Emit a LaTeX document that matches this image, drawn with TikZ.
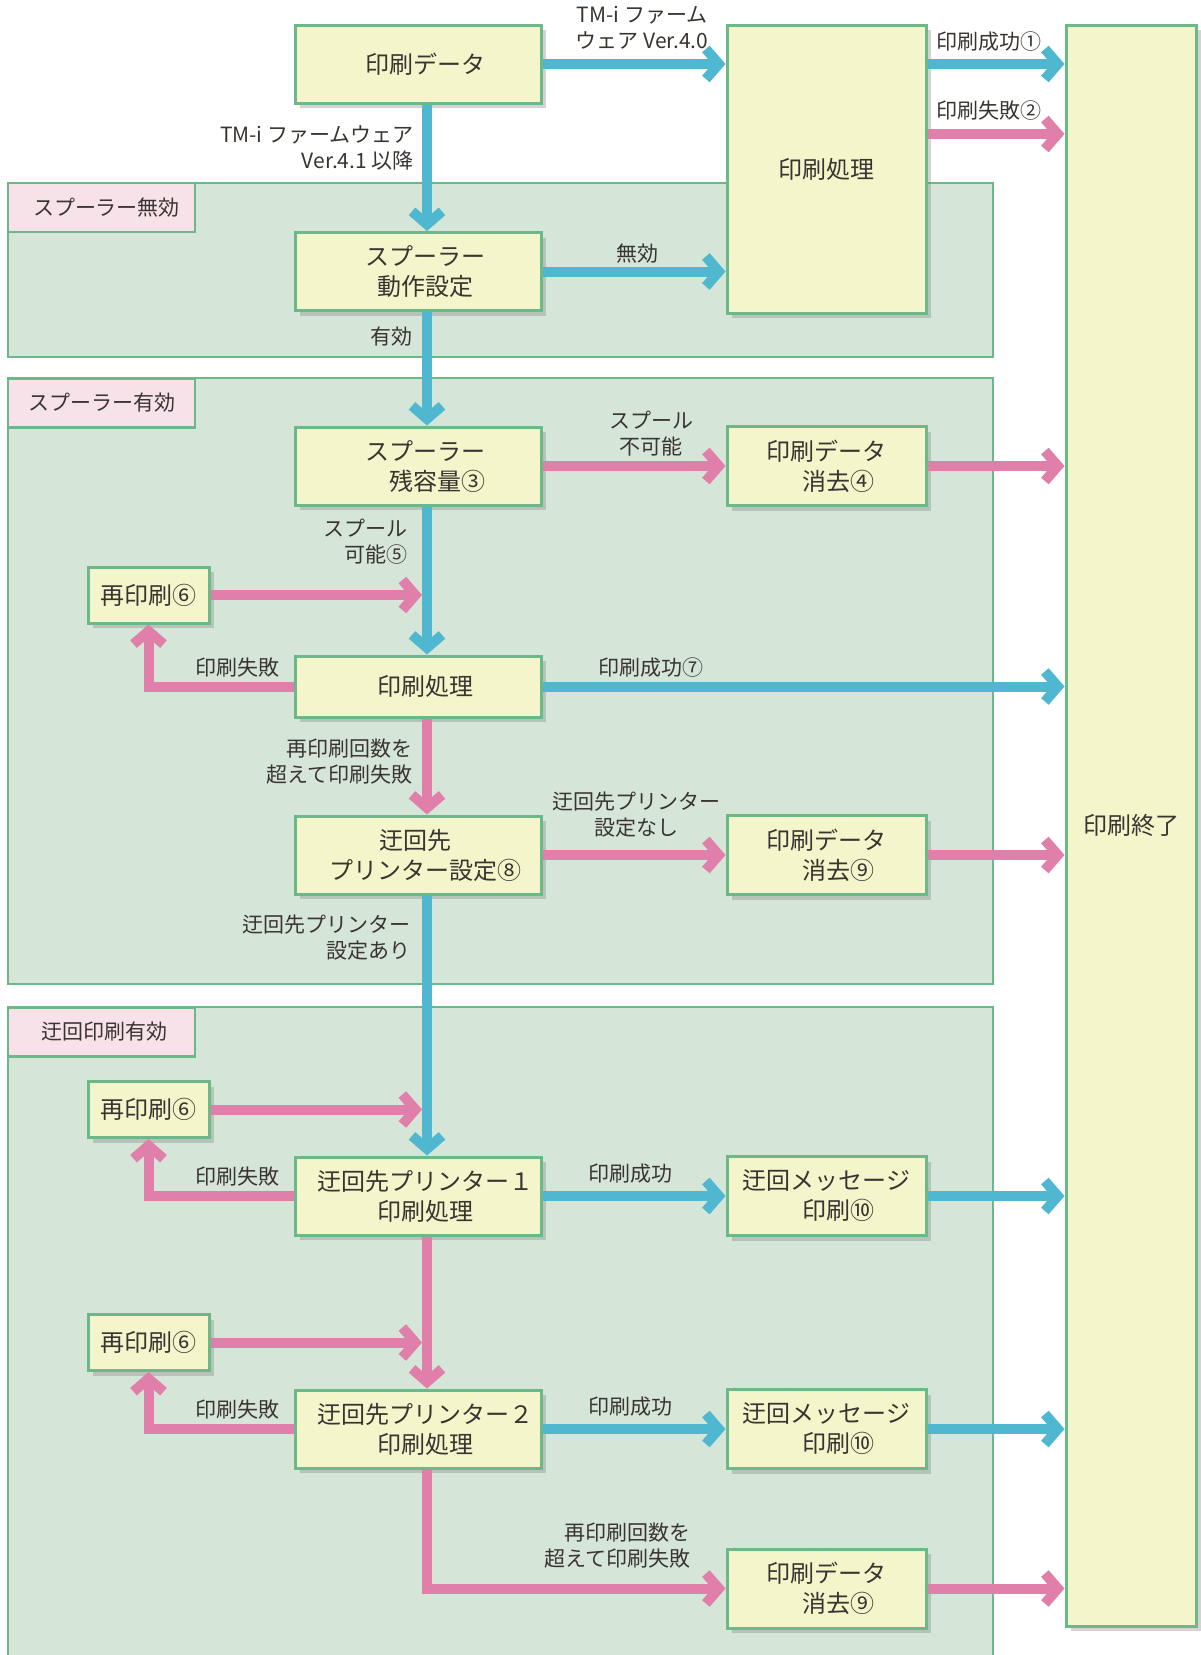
\documentclass[tikz,border=0pt]{standalone}
\usepackage{fontspec}
\setmainfont{Noto Sans CJK JP}
\usepackage{tikz}
\usetikzlibrary{arrows.meta,calc,shadows}
\definecolor{txt}{HTML}{3A3431}
\definecolor{blu}{HTML}{4FB7CF}
\definecolor{pnk}{HTML}{E07FA9}
\definecolor{pad}{HTML}{F4F5CB}
\definecolor{edg}{HTML}{6BB889}
\definecolor{zon}{HTML}{D5E6D8}
\definecolor{tagc}{HTML}{F7E2EA}
\newcommand{\boxtext}[1]{\hspace*{14pt}\raisebox{0pt}[\dimexpr\height+6pt\relax]{\begin{tabular}{@{}c@{}}#1\end{tabular}}}
\tikzset{
  box/.style={draw=edg,line width=3pt,fill=pad,inner sep=0pt,align=center,text=txt,
    font=\fontsize{24}{30}\selectfont,drop shadow={shadow xshift=5pt,shadow yshift=-5pt,opacity=0.35}},
  main/.style={box,minimum width=246pt,minimum height=78pt},
  side/.style={box,minimum width=199pt,minimum height=79pt},
  retry/.style={box,minimum width=121pt,minimum height=56pt},
  zone/.style={fill=zon,draw=edg,line width=2.5pt},
  tagbox/.style={draw=edg,line width=2.5pt,fill=tagc,minimum width=187pt,minimum height=49pt,
    inner sep=0pt,text=txt,font=\fontsize{21}{26}\selectfont},
  lbl/.style={text=txt,font=\fontsize{21}{26}\selectfont,inner sep=0pt},
  flow/.style={line width=10pt,-{Straight Barb[length=13pt,width=30pt,line cap=butt,line join=miter]}},
  bl/.style={flow,blu},
  pk/.style={flow,pnk}
}
\begin{document}
\begin{tikzpicture}[x=1pt,y=-1pt]
  \useasboundingbox (0,0) rectangle (1200,1655);
  \draw[zone] (8,183) rectangle (993,357);
  \draw[zone] (8,378) rectangle (993,984);
  \draw[zone] (8,1700) |- (993,1007) -- (993,1700);
  \node[tagbox] (offT) at (101.5,207.5) {\hspace*{10pt}スプーラー無効};
  \node[tagbox] (onT) at (101.5,403) {スプーラー有効};
  \node[tagbox] (altT) at (101.5,1032) {\hspace*{6pt}迂回印刷有効};
  \coordinate (spine) at (427,0);

  \node[main] (dat) at (418,64) {\boxtext{印刷データ}};
  \node[box,minimum width=199pt,minimum height=288pt] (prcA) at (826.5,169) {印刷処理};
  \node[box,minimum width=130pt,minimum height=1601pt] (fin) at (1131,825.5) {印刷終了};
  \node[main] (spl) at (418,271.5) {\boxtext{スプーラー\\動作設定}};
  \node[main] (cap) at (418,466) {\boxtext{スプーラー\\　残容量③}};
  \node[side] (delA) at (826.5,466) {印刷データ\\　消去④};
  \node[retry] (rtyA) at (148.5,595) {再印刷⑥};
  \node[main,minimum height=61pt] (prcB) at (418,686.5) {\boxtext{印刷処理}};
  \node[main] (alt) at (418,855) {\boxtext{迂回先\hspace*{20pt}\\プリンター設定⑧}};
  \node[side] (delB) at (826.5,855) {印刷データ\\　消去⑨};
  \node[retry] (rtyB) at (148.5,1109.5) {再印刷⑥};
  \node[main] (altA) at (418,1196) {\boxtext{迂回先プリンター１\\印刷処理}};
  \node[side] (msgA) at (826.5,1196) {迂回メッセージ\\　印刷⑩};
  \node[retry] (rtyC) at (148.5,1342.5) {再印刷⑥};
  \node[main] (altB) at (418,1429) {\boxtext{迂回先プリンター２\\印刷処理}};
  \node[side] (msgB) at (826.5,1429) {迂回メッセージ\\　印刷⑩};
  \node[side] (delC) at (826.5,1588.5) {印刷データ\\　消去⑨};

  \node[lbl,align=center] (l1) at (642,28) {TM-i ファーム\\ウェア Ver.4.0};
  \node[lbl,anchor=east,align=right] (l2) at (414,148) {TM-i ファームウェア\\Ver.4.1 以降};
  \node[lbl,anchor=west] (l3) at (936,42) {印刷成功①};
  \node[lbl,anchor=west] (l4) at (936,111) {印刷失敗②};
  \node[lbl] (l5) at (637,254) {無効};
  \node[lbl,anchor=east] (l6) at (413,337) {有効};
  \node[lbl,align=center] (l7) at (651,434) {スプール\\不可能};
  \node[lbl,anchor=east,align=right] (l8) at (408,542) {スプール\\可能⑤};
  \node[lbl] (l9) at (237,668) {印刷失敗};
  \node[lbl] (l10) at (651,668) {印刷成功⑦};
  \node[lbl,anchor=east,align=right] (l11) at (413,762) {再印刷回数を\\超えて印刷失敗};
  \node[lbl,align=center] (l12) at (636,815) {迂回先プリンター\\設定なし};
  \node[lbl,anchor=east,align=right] (l13) at (411,938) {迂回先プリンター\\設定あり};
  \node[lbl] (l14) at (237,1177) {印刷失敗};
  \node[lbl] (l15) at (630,1174) {印刷成功};
  \node[lbl] (l16) at (237,1410) {印刷失敗};
  \node[lbl] (l17) at (630,1407) {印刷成功};
  \node[lbl,anchor=east,align=right] (l18) at (691,1546) {再印刷回数を\\超えて印刷失敗};

  \draw[bl] (dat.east) -- (prcA.west |- dat.east);
  \draw[bl] (prcA.east |- dat.east) -- (fin.west |- dat.east);
  \draw[pk] ($(prcA.east |- dat.east)+(0,70)$) -- ($(fin.west |- dat.east)+(0,70)$);
  \draw[bl] (dat.south -| spine) -- (spl.north -| spine);
  \draw[bl] (spl.east) -- (prcA.west |- spl.east);
  \draw[bl] (spl.south -| spine) -- (cap.north -| spine);
  \draw[pk] (cap.east) -- (delA.west);
  \draw[pk] (delA.east) -- (fin.west |- delA.east);
  \draw[bl] (cap.south -| spine) -- (prcB.north -| spine);
  \draw[pk] (rtyA.east) -- ($(rtyA.east -| spine)+(-5,0)$);
  \draw[pk] (prcB.west) -| (rtyA.south);
  \draw[bl] (prcB.east) -- (fin.west |- prcB.east);
  \draw[pk] (prcB.south -| spine) -- (alt.north -| spine);
  \draw[pk] (alt.east) -- (delB.west);
  \draw[pk] (delB.east) -- (fin.west |- delB.east);
  \draw[bl] (alt.south -| spine) -- (altA.north -| spine);
  \draw[pk] (rtyB.east) -- ($(rtyB.east -| spine)+(-5,0)$);
  \draw[pk] (altA.west) -| (rtyB.south);
  \draw[bl] (altA.east) -- (msgA.west);
  \draw[bl] (msgA.east) -- (fin.west |- msgA.east);
  \draw[pk] (altA.south -| spine) -- (altB.north -| spine);
  \draw[pk] (rtyC.east) -- ($(rtyC.east -| spine)+(-5,0)$);
  \draw[pk] (altB.west) -| (rtyC.south);
  \draw[bl] (altB.east) -- (msgB.west);
  \draw[bl] (msgB.east) -- (fin.west |- msgB.east);
  \draw[pk] (altB.south -| spine) |- (delC.west);
  \draw[pk] (delC.east) -- (fin.west |- delC.east);
\end{tikzpicture}
\end{document}
